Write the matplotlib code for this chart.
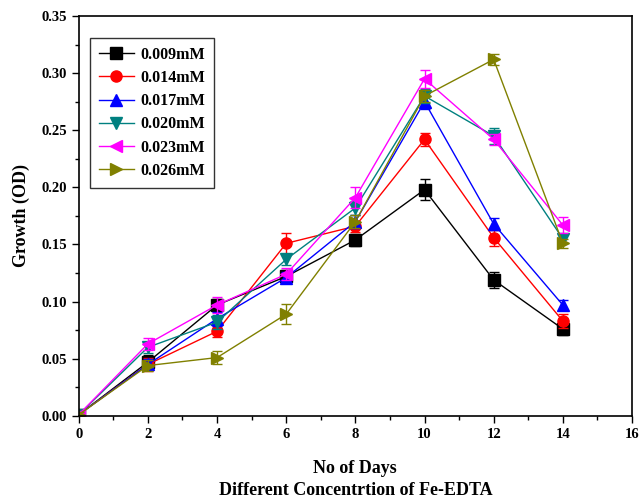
import matplotlib
matplotlib.use("Agg")
import matplotlib.pyplot as plt
from matplotlib.ticker import MultipleLocator, FormatStrFormatter

plt.rcParams['font.family'] = ['Liberation Serif', 'DejaVu Serif']
plt.rcParams['font.weight'] = 'bold'

days = [0, 2, 4, 6, 8, 10, 12, 14]
labels = ["0.009mM", "0.014mM", "0.017mM", "0.020mM", "0.023mM", "0.026mM"]

g_009 = [0.001, 0.047, 0.097, 0.122, 0.154, 0.198, 0.119, 0.076]
g_014 = [0.001, 0.045, 0.074, 0.151, 0.166, 0.242, 0.156, 0.083]
g_017 = [0.001, 0.045, 0.085, 0.121, 0.170, 0.275, 0.168, 0.097]
g_020 = [0.001, 0.060, 0.082, 0.137, 0.182, 0.280, 0.245, 0.155]
g_023 = [0.001, 0.063, 0.097, 0.124, 0.191, 0.295, 0.242, 0.167]
g_026 = [0.001, 0.044, 0.051, 0.089, 0.170, 0.280, 0.312, 0.151]

e_009 = [0.002, 0.006, 0.005, 0.006, 0.005, 0.009, 0.007, 0.005]
e_014 = [0.002, 0.006, 0.005, 0.009, 0.005, 0.006, 0.007, 0.006]
e_017 = [0.002, 0.005, 0.006, 0.005, 0.006, 0.006, 0.005, 0.004]
e_020 = [0.002, 0.005, 0.006, 0.005, 0.006, 0.006, 0.007, 0.004]
e_023 = [0.002, 0.005, 0.007, 0.005, 0.009, 0.008, 0.005, 0.007]
e_026 = [0.002, 0.005, 0.006, 0.009, 0.006, 0.005, 0.005, 0.004]

series = [g_009, g_014, g_017, g_020, g_023, g_026]
errors = [e_009, e_014, e_017, e_020, e_023, e_026]
colors = ["black", "red", "blue", "#008080", "magenta", "#808000"]
markers = ["s", "o", "^", "v", "<", ">"]

fig, ax = plt.subplots(figsize=(6.4, 5.01), dpi=100)
fig.subplots_adjust(left=0.123, right=0.9875, top=0.968, bottom=0.17)

handles = []
for y, err, c, m, lab in zip(series, errors, colors, markers, labels):
    ax.errorbar(days, y, yerr=err, color=c, fmt="none",
                elinewidth=1, capsize=3.5, capthick=1)
    line, = ax.plot(days, y, color=c, marker=m, markersize=8,
                    linewidth=1, label=lab)
    handles.append(line)

ax.set_xlim(0, 16)
ax.set_ylim(0, 0.35)
ax.xaxis.set_major_locator(MultipleLocator(2))
ax.xaxis.set_minor_locator(MultipleLocator(1))
ax.yaxis.set_major_locator(MultipleLocator(0.05))
ax.yaxis.set_minor_locator(MultipleLocator(0.025))
ax.yaxis.set_major_formatter(FormatStrFormatter("%.2f"))
ax.tick_params(which="both", direction="out", labelsize=10.5, width=1)
ax.tick_params(which="major", length=5)
ax.tick_params(which="minor", length=3)
for s in ax.spines.values():
    s.set_linewidth(1.2)

ax.set_ylabel("Growth (OD)", fontsize=13, fontweight="bold", labelpad=8)
ax.set_xlabel("No of Days\nDifferent Concentrtion of Fe-EDTA",
              fontsize=13, fontweight="bold", labelpad=14, linespacing=1.35)

leg = ax.legend(handles=handles, loc="upper left", bbox_to_anchor=(0.02, 0.945),
                fontsize=11.5, fancybox=False, edgecolor="black",
                handlelength=2.2, handletextpad=0.4, labelspacing=0.45,
                borderpad=0.55, borderaxespad=0)
leg.get_frame().set_linewidth(1)

fig.savefig("out.png", dpi=100)
